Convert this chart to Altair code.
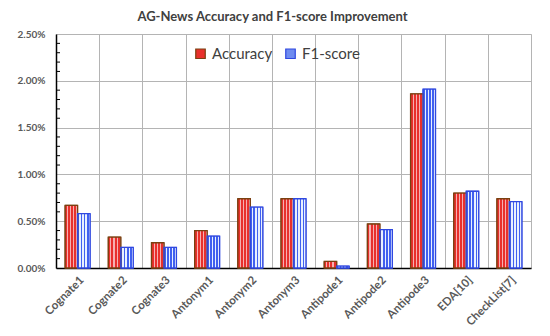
import altair as alt
import pandas as pd

categories = ["Cognate1", "Cognate2", "Cognate3", "Antonym1", "Antonym2", "Antonym3",
              "Antipode1", "Antipode2", "Antipode3", "EDA[10]", "CheckList[7]"]
accuracy = [0.0067, 0.0033, 0.0027, 0.0040, 0.0074, 0.0074, 0.0007, 0.0047, 0.0186, 0.0080, 0.0074]
f1_score = [0.0058, 0.0022, 0.0022, 0.0034, 0.0065, 0.0074, 0.0002, 0.0041, 0.0191, 0.0082, 0.0071]
series = ["Accuracy", "F1-score"]
y_ticks = [0.0, 0.005, 0.010, 0.015, 0.020, 0.025]
minor_ticks = [0.001, 0.002, 0.003, 0.004, 0.006, 0.007, 0.008, 0.009,
               0.011, 0.012, 0.013, 0.014, 0.016, 0.017, 0.018, 0.019,
               0.021, 0.022, 0.023, 0.024]

rows = []
for c, a, f in zip(categories, accuracy, f1_score):
    rows.append({"category": c, "series": series[0], "value": a})
    rows.append({"category": c, "series": series[1], "value": f})
df = pd.DataFrame(rows)
minor_df = pd.DataFrame({"v": minor_ticks})

FONT = "Lato"


def stripes(c1, c2, n, frac):
    stops = []
    for k in range(n):
        s = k / n
        m = s + frac / n
        e = (k + 1) / n
        stops += [{"offset": s, "color": c1}, {"offset": m, "color": c1},
                  {"offset": m, "color": c2}, {"offset": e, "color": c2}]
    return {"gradient": "linear", "x1": 0, "y1": 0, "x2": 1, "y2": 0, "stops": stops}


grad_acc = stripes("#E8302C", "#F6B0B0", 4, 0.65)
grad_f1 = stripes("#4060F0", "#E8F0FF", 4, 0.5)

x_enc = alt.X("category:N", sort=categories,
              scale=alt.Scale(paddingInner=0, paddingOuter=0),
              axis=alt.Axis(title=None, labelAngle=-45, labelAlign="right", labelBaseline="top",
                            labelFontSize=11.5, labelColor="#595959", labelFont=FONT,
                            labelFontWeight="bold", labelPadding=6,
                            ticks=False, grid=True, tickBand="extent",
                            gridColor="#B4B4B4", gridWidth=1,
                            domainColor="#000000", domainWidth=1.5))
xo_enc = alt.XOffset("series:N", sort=series, scale=alt.Scale(paddingOuter=0.73, paddingInner=0))
y_enc = alt.Y("value:Q", scale=alt.Scale(domain=[0, 0.025], nice=False),
              axis=alt.Axis(title=None, values=y_ticks, format=".2%", labelFontSize=10,
                            labelFontWeight="bold", labelColor="#595959", labelFont=FONT,
                            labelPadding=11, ticks=False, grid=True,
                            gridColor="#B4B4B4", gridWidth=1,
                            domainColor="#000000", domainWidth=1.5))

base = alt.Chart(df).encode(x=x_enc, xOffset=xo_enc, y=y_enc)

solid = base.mark_bar().encode(
    fill=alt.Color("series:N", sort=series,
                   scale=alt.Scale(domain=series, range=["#E8302C", "#6F8CF0"]),
                   legend=alt.Legend(title=None, orient="none", direction="horizontal",
                                     legendX=137, legendY=12, symbolType="square",
                                     symbolSize=90, labelFontSize=15, labelFont=FONT,
                                     labelColor="#404040", columnPadding=10,
                                     symbolStrokeWidth=1.2)),
    stroke=alt.Stroke("series:N", sort=series,
                      scale=alt.Scale(domain=series, range=["#7A4010", "#3048E0"]),
                      legend=None),
)

pattern = base.mark_bar(strokeWidth=0).encode(
    fill=alt.condition(alt.datum.series == "Accuracy", alt.value(grad_acc), alt.value(grad_f1))
)

outline = base.mark_bar(fillOpacity=0, strokeWidth=1.3).encode(
    stroke=alt.condition(alt.datum.series == "Accuracy", alt.value("#7A4010"), alt.value("#3048E0"))
)

minor = alt.Chart(minor_df).mark_rule(color="#000000", strokeWidth=1).encode(
    y=alt.Y("v:Q"), x=alt.value(0), x2=alt.value(4)
)

chart = alt.layer(solid, pattern, outline, minor).properties(
    width=475, height=234,
    title=alt.TitleParams("AG-News Accuracy and F1-score Improvement", fontSize=13,
                          fontWeight="bold", color="#404040", font=FONT, anchor="middle",
                          dx=-21, offset=5),
    autosize=alt.AutoSizeParams(type="none"),
    padding={"left": 48, "top": 26, "right": 11, "bottom": 60},
).configure_view(stroke="#000000", strokeWidth=1).configure(background="white")

chart.save("out.html", embed_options={"renderer": "svg", "actions": False})
